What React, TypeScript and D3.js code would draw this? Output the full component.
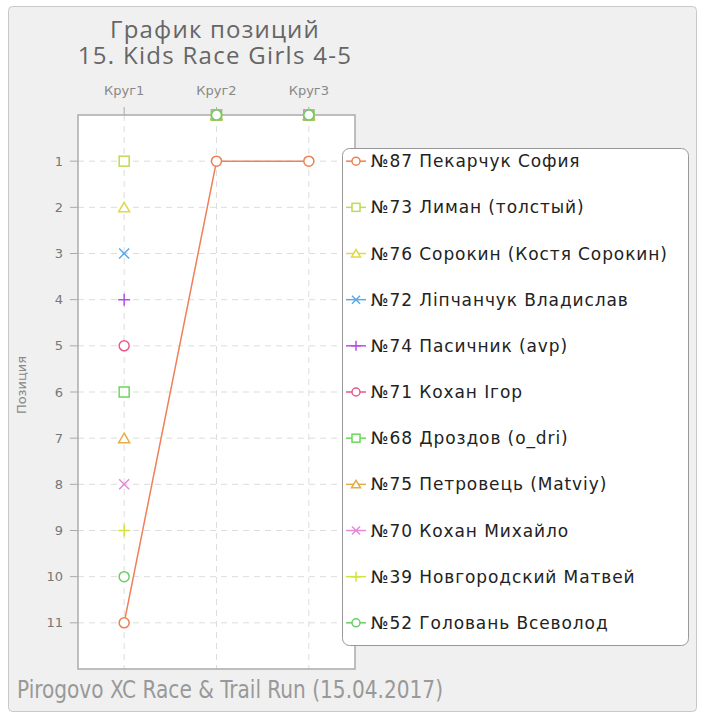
import * as d3 from 'd3';

const laps = ['Круг1', 'Круг2', 'Круг3'];
const riders = [
  '№87 Пекарчук София',
  '№73 Лиман (толстый)',
  '№76 Сорокин (Костя Сорокин)',
  '№72 Ліпчанчук Владислав',
  '№74 Пасичник (avp)',
  '№71 Кохан Ігор',
  '№68 Дроздов (o_dri)',
  '№75 Петровець (Matviy)',
  '№70 Кохан Михайло',
  '№39 Новгородский Матвей',
  '№52 Головань Всеволод',
];
const colors = [
  '#ee8055', '#bcdc52', '#e0d84a', '#5aaaea', '#b64fe6', '#e85a8c',
  '#6ad85a', '#e4ad45', '#e48ad8', '#d4e23c', '#6dcc68',
];
const shapes = ['circle', 'square', 'triangle', 'cross', 'plus', 'circle', 'square', 'triangle', 'cross', 'plus', 'circle'];
// 0 = not ranked on that lap (drawn on the top edge)
const positions = [
  [11, 1, 1],
  [1, 0, 0],
  [2, 0, 0],
  [3, 0, 0],
  [4, 0, 0],
  [5, 0, 0],
  [6, 0, 0],
  [7, 0, 0],
  [8, 0, 0],
  [9, 0, 0],
  [10, 0, 0],
];
const posTicks = [1, 2, 3, 4, 5, 6, 7, 8, 9, 10, 11];

function Marker({ shape, x, y, color, s = 5 }: { shape: string; x: number; y: number; color: string; s?: number }) {
  const common = { stroke: color, strokeWidth: 1.5, fill: '#fff' };
  if (shape === 'circle') return <circle cx={x} cy={y} r={s} {...common} />;
  if (shape === 'square') return <rect x={x - s} y={y - s} width={2 * s} height={2 * s} {...common} />;
  if (shape === 'triangle')
    return <path d={`M${x},${y - s}L${x + s + 0.5},${y + s - 0.5}L${x - s - 0.5},${y + s - 0.5}Z`} {...common} />;
  if (shape === 'cross')
    return <path d={`M${x - s},${y - s}L${x + s},${y + s}M${x - s},${y + s}L${x + s},${y - s}`} {...common} fill="none" />;
  return <path d={`M${x - s - 1},${y}L${x + s + 1},${y}M${x},${y - s - 1}L${x},${y + s + 1}`} {...common} fill="none" />;
}

export default function App() {
  const W = 705;
  const H = 719;
  const left = 78, right = 355, top = 115, bottom = 669;

  const x = d3.scalePoint<string>().domain(laps).range([left, right]).padding(0.5);
  const y = d3.scaleLinear().domain([0, 12]).range([top, bottom]);

  const line = d3
    .line<number>()
    .defined((d) => d > 0)
    .x((_, i) => x(laps[i])!)
    .y((d) => y(d));

  const font = 'DejaVu Sans';

  return (
    <svg width={W} height={H} style={{ position: 'absolute', left: 0, top: 0 }}>
      <rect x={0} y={0} width={W} height={H} fill="#fff" />
      <rect x={8.5} y={6.5} width={688} height={705} rx={4} fill="#f0f0f0" stroke="#c8c8c8" />

      {/* title */}
      <text x={215} y={38} textAnchor="middle" fontFamily="Open Sans" fontSize={24} letterSpacing={1.2} fill="#666">
        График позиций
      </text>
      <text x={215} y={64} textAnchor="middle" fontFamily="Open Sans" fontSize={24} letterSpacing={1.3} fill="#666">
        15. Kids Race Girls 4-5
      </text>

      {/* plot area */}
      <rect x={left} y={top} width={right - left} height={bottom - top} fill="#fff" />

      {/* grid */}
      {posTicks.map((p) => (
        <line key={'h' + p} x1={left} x2={right} y1={y(p)} y2={y(p)} stroke="#ddd" strokeDasharray="6,5" />
      ))}
      {laps.map((l) => (
        <line key={'v' + l} x1={x(l)} x2={x(l)} y1={top} y2={bottom} stroke="#ddd" strokeDasharray="6,5" />
      ))}

      {/* frame */}
      <rect x={left} y={top} width={right - left} height={bottom - top} fill="none" stroke="#aaa" strokeWidth={1.5} />

      {/* y axis ticks */}
      {posTicks.map((p) => (
        <g key={'yt' + p}>
          <line x1={left - 8} x2={left} y1={y(p)} y2={y(p)} stroke="#aaa" />
          <text x={63} y={y(p)} dy="0.35em" textAnchor="end" fontFamily={font} fontSize={13} fill="#777">
            {p}
          </text>
        </g>
      ))}
      <text
        transform={`translate(26,385) rotate(-90)`}
        textAnchor="middle"
        fontFamily={font}
        fontSize={13}
        fill="#888"
      >
        Позиция
      </text>

      {/* top axis */}
      {laps.map((l) => (
        <g key={'xt' + l}>
          <line x1={x(l)} x2={x(l)} y1={top - 8} y2={top} stroke="#aaa" />
          <text x={x(l)} y={95} textAnchor="middle" fontFamily={font} fontSize={13} fill="#888">
            {l}
          </text>
        </g>
      ))}

      {/* series */}
      {positions.map((ps, i) => (
        <path key={'l' + i} d={line(ps) || ''} fill="none" stroke={colors[i]} strokeWidth={1.5} />
      ))}
      {positions.map((ps, i) =>
        ps.map((p, j) => <Marker key={`m${i}-${j}`} shape={shapes[i]} x={x(laps[j])!} y={y(p)} color={colors[i]} />)
      )}

      {/* legend */}
      <rect x={342.5} y={148.5} width={346} height={497} rx={7} fill="#fff" stroke="#999" />
      {riders.map((r, i) => {
        const ly = y(i + 1);
        return (
          <g key={'lg' + i}>
            <line x1={346} x2={366} y1={ly} y2={ly} stroke={colors[i]} strokeWidth={1.5} />
            <Marker shape={shapes[i]} x={356} y={ly} color={colors[i]} s={4} />
            <text x={371} y={ly} dy="0.36em" fontFamily={font} fontSize={17} letterSpacing={0.9} fill="#222">
              {r}
            </text>
          </g>
        );
      })}

      {/* footer */}
      <text
        x={17}
        y={698}
        fontFamily="DejaVu Sans Condensed"
        fontStretch="condensed"
        fontSize={25}
        fill="#999"
        textLength={426}
        lengthAdjust="spacingAndGlyphs"
      >
        Pirogovo XC Race &amp; Trail Run (15.04.2017)
      </text>
    </svg>
  );
}
